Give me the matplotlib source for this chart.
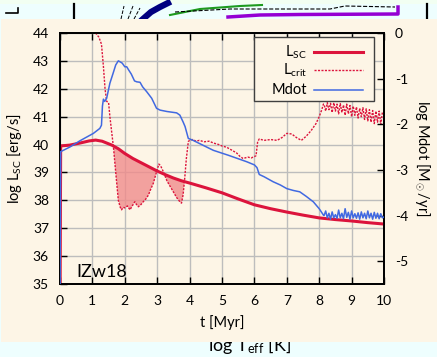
import matplotlib
matplotlib.use('Agg')
import matplotlib.pyplot as plt
import numpy as np
from matplotlib.lines import Line2D
from matplotlib.patches import Rectangle

plt.rcParams['font.family'] = ['Lato', 'DejaVu Sans']
plt.rcParams['mathtext.fontset'] = 'custom'
plt.rcParams['mathtext.rm'] = 'Lato'
plt.rcParams['mathtext.it'] = 'Lato:italic'
plt.rcParams['mathtext.bf'] = 'Lato:bold'
plt.rcParams['axes.unicode_minus'] = False

# ---------------- data ----------------
t_sc = [0.0, 0.02, 0.3, 0.6, 0.9, 1.1, 1.3, 1.6, 1.8, 2.0, 2.25, 2.5, 2.75, 3.0, 3.25,
        3.5, 3.75, 4.0, 4.5, 5.0, 5.5, 6.0, 6.5, 7.0, 7.5, 8.0, 8.5, 9.0, 9.5, 10.0]
l_sc = [34.0, 39.95, 39.98, 40.05, 40.13, 40.16, 40.12, 39.98, 39.85, 39.68, 39.5, 39.35,
        39.2, 39.05, 38.92, 38.8, 38.7, 38.62, 38.45, 38.27, 38.05, 37.84, 37.7, 37.58,
        37.47, 37.37, 37.31, 37.26, 37.2, 37.15]

t_crit = [1.05, 1.1, 1.2, 1.28, 1.34, 1.39, 1.44, 1.5, 1.54, 1.6, 1.65, 1.72, 1.8, 1.86,
          1.9, 1.95, 2.0, 2.08, 2.16, 2.23, 2.31, 2.36, 2.42, 2.5, 2.57, 2.65, 2.73, 2.8,
          2.88, 2.95, 3.0, 3.05, 3.1, 3.2, 3.3, 3.4, 3.5, 3.6, 3.7, 3.75, 3.8, 3.85, 3.9,
          3.96, 4.0, 4.1, 4.2, 4.3, 4.45, 4.6, 4.75, 4.9, 5.0, 5.15, 5.3, 5.45, 5.55, 5.65,
          5.8, 5.9, 6.0, 6.05, 6.1, 6.15, 6.3, 6.5, 6.7, 6.85, 7.0, 7.15, 7.3, 7.45, 7.6,
          7.75, 7.9, 8.0, 8.08, 8.13,
          8.15, 8.2, 8.25, 8.3, 8.35, 8.4, 8.45, 8.5, 8.55, 8.6, 8.65, 8.7, 8.75, 8.8,
          8.85, 8.9, 8.95, 9.0, 9.05, 9.1, 9.15, 9.2, 9.25, 9.3, 9.35, 9.4, 9.45, 9.5,
          9.55, 9.6, 9.65, 9.7, 9.75, 9.8, 9.85, 9.9, 9.95, 10.0]
l_crit = [44.5, 44.0, 43.85, 43.6, 42.8, 42.0, 41.55, 41.5, 41.0, 40.4, 39.9, 39.0, 38.0,
          37.75, 37.66, 37.75, 37.73, 37.8, 37.66, 37.8, 37.95, 37.85, 37.77, 37.85, 37.95,
          38.05, 38.19, 38.4, 38.61, 38.9, 39.1, 39.3, 39.25, 39.0, 38.7, 38.5, 38.3, 38.1,
          37.95, 37.9, 38.2, 38.8, 39.5, 40.1, 40.16, 40.18, 40.12, 40.15, 40.1, 40.12,
          40.05, 40.0, 39.95, 39.9, 39.8, 39.7, 39.58, 39.5, 39.55, 39.52, 39.57, 39.6,
          40.1, 40.2, 40.15, 40.18, 40.15, 40.25, 40.4, 40.38, 40.25, 40.15, 40.3, 40.5,
          40.75, 41.0, 41.25, 41.45,
          41.45, 41.2, 41.5, 41.25, 41.48, 41.15, 41.5, 41.2, 41.45, 41.1, 41.47, 41.15,
          41.42, 41.05, 41.45, 41.1, 41.4, 41.0, 41.38, 41.05, 41.35, 40.95, 41.3, 41.0,
          41.32, 40.9, 41.28, 40.85, 41.25, 40.8, 41.22, 40.75, 41.2, 40.8, 41.2, 40.72,
          41.15, 41.1]

t_mdot = [0.0, 0.02, 0.3, 0.62, 0.85, 1.03, 1.23, 1.28, 1.31, 1.34, 1.38, 1.44, 1.54,
          1.64, 1.72, 1.8, 1.85, 1.92, 2.0, 2.06, 2.11, 2.2, 2.3, 2.37, 2.47, 2.55, 2.68,
          2.83, 2.98, 3.09, 3.3, 3.6, 3.7, 3.8, 3.86, 3.96, 4.1, 4.73, 5.2, 5.76, 6.0,
          6.08, 6.15, 6.3, 6.58, 6.8, 7.0, 7.2, 7.4, 7.6, 7.82, 8.0, 8.13,
          8.15, 8.2, 8.25, 8.3, 8.35, 8.4, 8.45, 8.5, 8.55, 8.6, 8.65, 8.7, 8.75, 8.8,
          8.85, 8.9, 8.95, 9.0, 9.05, 9.1, 9.15, 9.2, 9.25, 9.3, 9.35, 9.4, 9.45, 9.5,
          9.55, 9.6, 9.65, 9.7, 9.75, 9.8, 9.85, 9.9, 9.95, 10.0]
mdot = [-6.0, -2.6, -2.5, -2.36, -2.27, -2.2, -2.09, -2.02, -1.6, -1.45, -1.5, -1.43,
        -1.1, -0.88, -0.7, -0.61, -0.63, -0.66, -0.74, -0.74, -0.8, -0.9, -1.05, -1.07,
        -1.08, -1.18, -1.29, -1.43, -1.65, -1.69, -1.72, -1.75, -1.8, -1.95, -2.05, -2.31,
        -2.35, -2.57, -2.68, -2.82, -2.89, -2.95, -3.1, -3.15, -3.26, -3.33, -3.41, -3.45,
        -3.48, -3.58, -3.7, -3.85, -3.99,
        -4.0, -3.9, -4.05, -3.95, -4.08, -3.92, -4.05, -3.98, -4.06, -3.88, -4.05, -3.95,
        -4.07, -3.85, -4.04, -3.93, -4.08, -3.9, -4.05, -3.96, -4.06, -3.94, -4.08, -3.92,
        -4.05, -3.95, -4.07, -3.9, -4.05, -3.95, -4.08, -3.93, -4.06, -3.95, -4.07, -3.96,
        -4.05, -4.03]

x_ticks = list(range(0, 11))
y_ticks = list(range(35, 45))
y2_ticks = list(range(-5, 1))
legend_labels = [r'L$_{\rm SC}$', r'L$_{\rm crit}$', 'Mdot']

RED = '#dc143c'
BLUE = '#4169e1'
BEIGE = '#fdf5e6'

W, H = 437, 357
fig = plt.figure(figsize=(W / 100, H / 100), dpi=100, facecolor='#eefefe')

def fx(px):
    return px / W

def fy(py):
    return 1 - py / H

# background pieces of the surrounding composite
fig.patches.append(Rectangle((0, fy(4)), 1, fy(0) - fy(4), transform=fig.transFigure,
                             facecolor='#f2fff2', edgecolor='none', zorder=-5))
fig.text(fx(250), fy(351), r'log T$_{\rm eff}$ [K]', ha='center', va='baseline',
         fontsize=13, zorder=-3)
deco = [
    ([73.5, 73.5], [4, 19], 'black', 1.6, '-'),
    ([427, 427], [4, 19], 'black', 1.6, '-'),
    ([6, 18, 18], [13, 13, 8], 'black', 1.2, '-'),
    ([143, 151, 160, 168], [19, 12, 7, 3], '#000080', 4.5, '-'),
    ([170, 200, 240, 262], [15, 9, 6, 5], '#1e9a1e', 1.5, '-'),
    ([228, 260, 300, 398, 398], [17, 15, 14.5, 14, 7], '#9400d3', 2.5, '-'),
    ([175, 230, 330, 345, 395], [12, 9, 9, 6, 7], 'black', 0.8, '--'),
    ([121, 124], [19, 6], 'black', 0.7, '--'),
    ([128, 133], [19, 6], 'black', 0.7, '--'),
    ([134, 140], [19, 8], 'black', 0.7, '--'),
]
for xs, ys, c, lw, ls in deco:
    fig.add_artist(Line2D([fx(v) for v in xs], [fy(v) for v in ys], color=c, lw=lw,
                          ls=ls, transform=fig.transFigure, zorder=-4))
fig.patches.append(Rectangle((fx(1), fy(342)), fx(437) - fx(1), fy(19) - fy(342),
                             transform=fig.transFigure, facecolor=BEIGE,
                             edgecolor='none', zorder=-2))

ax = fig.add_axes([fx(60), fy(284), (384 - 60) / W, (284 - 33) / H])
ax.set_facecolor(BEIGE)
ax2 = ax.twinx()

ax.plot(t_sc, l_sc, color=RED, lw=2.2, zorder=3, solid_capstyle='butt')
ax.plot(t_crit, l_crit, color=RED, lw=1.0, ls=(0, (1.5, 1.0)), zorder=3)
tc = np.array(t_crit)
lc = np.array(l_crit)
ls_at = np.interp(tc, t_sc, l_sc)
ax.fill_between(tc, lc, ls_at, where=lc < ls_at, interpolate=True,
                facecolor='#f08c8c', alpha=0.8, edgecolor='none', zorder=2)
ax2.plot(t_mdot, mdot, color=BLUE, lw=1.1, zorder=3)

ax.set_xlim(0, 10)
ax.set_ylim(35, 44)
ax2.set_ylim(-5.5, 0)
ax.set_xticks(x_ticks)
ax.set_yticks(y_ticks)
ax2.set_yticks(y2_ticks)
ax.grid(True, color='#bdbdbd', lw=1)
ax.set_axisbelow(True)
ax.tick_params(direction='in', length=5, width=1, labelsize=10, pad=8, top=True,
               right=False)
ax2.tick_params(direction='in', length=5, width=1, labelsize=10, pad=8)
for a in (ax, ax2):
    for s in a.spines.values():
        s.set_linewidth(1.3)
        s.set_color('black')

ax.set_xlabel('t [Myr]', fontsize=10.5, labelpad=6)
ax.set_ylabel(r'log L$_{\rm SC}$ [erg/s]', fontsize=10.5, labelpad=6)
ax2.set_ylabel(r'log Mdot [M$_\odot$/yr]', fontsize=10.5, rotation=-90, va='bottom',
               labelpad=3)

ax.text(0.049, 0.028, 'IZw18', transform=ax.transAxes, fontsize=13, ha='left',
        va='baseline', zorder=5)

# legend (gnuplot style: right-aligned text, sample on the right)
ax2.add_patch(Rectangle((0.599, 0.729), 0.37, 0.255, transform=ax2.transAxes,
                        facecolor=BEIGE, edgecolor='#404040', lw=1.0, zorder=10))
rows = [0.924, 0.853, 0.773]
styles = [dict(lw=2.2), dict(lw=1.0, ls=(0, (1.5, 1.0))), dict(lw=1.1)]
colors = [RED, RED, BLUE]
for lab, yy, st, c in zip(legend_labels, rows, styles, colors):
    ax2.text(0.762, yy, lab, transform=ax2.transAxes, ha='right', va='center',
             fontsize=10.5, zorder=11)
    ax2.add_line(Line2D([0.784, 0.935], [yy, yy], transform=ax2.transAxes, color=c,
                        zorder=11, **st))

fig.savefig('out.png', dpi=100, facecolor=fig.get_facecolor())
